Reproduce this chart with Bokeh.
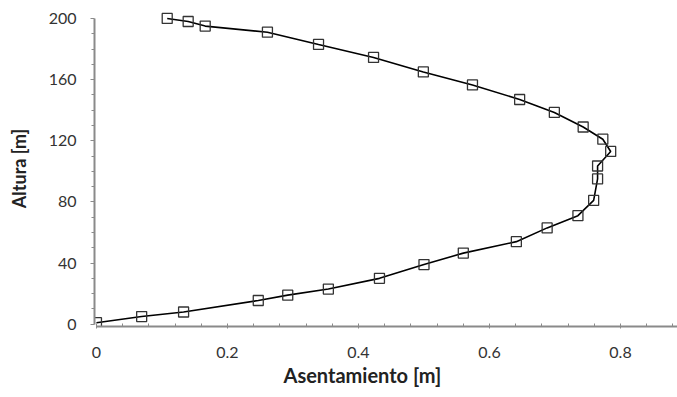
from bokeh.plotting import figure
from bokeh.models import Range1d, FixedTicker, Title
from bokeh.embed import file_html
from bokeh.resources import INLINE

# Data
asentamiento = [0.0, 0.069, 0.133, 0.247, 0.292, 0.354, 0.432, 0.500, 0.560, 0.641,
                0.688, 0.735, 0.759, 0.765, 0.765, 0.785, 0.773, 0.743, 0.699, 0.646,
                0.574, 0.499, 0.423, 0.339, 0.261, 0.166, 0.140, 0.108]
altura = [1, 5, 8, 15.5, 19, 23, 30, 39, 46.5, 54,
          63, 71, 81, 95, 103.5, 113, 121, 129, 138.5, 147,
          156.5, 165, 174.5, 183, 191, 195, 198, 200]

x_ticks = [0, 0.2, 0.4, 0.6, 0.8]
x_tick_labels = ["0", "0.2", "0.4", "0.6", "0.8"]
x_minor = [0.04 * i for i in range(1, 23) if i % 5 != 0]
y_ticks = [0, 40, 80, 120, 160, 200]
y_tick_labels = ["0", "40", "80", "120", "160", "200"]
y_minor = [v for v in range(10, 200, 10) if v % 40 != 0]

FONT = "Lato"

p = figure(width=677, height=397, output_backend="svg", toolbar_location=None,
           x_range=Range1d(-0.003, 0.887), y_range=Range1d(-1.5, 205.2),
           min_border_left=94, min_border_right=0, min_border_top=10, min_border_bottom=71)

p.line(asentamiento, altura, line_color="black", line_width=1.6)
p.scatter(asentamiento, altura, marker="square", size=10, fill_alpha=0,
          line_color="#333333", line_width=1.3)

p.xgrid.visible = False
p.ygrid.visible = False
p.outline_line_color = None

for ax in (p.xaxis[0], p.yaxis[0]):
    ax.axis_line_color = "#8a8a8a"
    ax.axis_line_width = 2
    ax.major_tick_line_color = "#8a8a8a"
    ax.minor_tick_line_color = "#8a8a8a"
    ax.major_tick_line_width = 1
    ax.minor_tick_line_width = 1
    ax.major_label_text_font = FONT
    ax.major_label_text_font_size = "16px"
    ax.major_label_text_color = "#333333"
    ax.axis_label_text_font = FONT
    ax.axis_label_text_font_style = "bold"
    ax.axis_label_text_font_size = "18px"
    ax.axis_label_text_color = "#222222"

xa = p.xaxis[0]
xa.ticker = FixedTicker(ticks=x_ticks, minor_ticks=x_minor)
xa.major_label_overrides = dict(zip(x_ticks, x_tick_labels))
xa.bounds = (0, 0.887)
xa.major_tick_in = 3
xa.major_tick_out = 2
xa.minor_tick_in = 3
xa.minor_tick_out = 0
xa.major_label_standoff = 18

xtitle = Title(text="Asentamiento [m]", align="left", offset=189, standoff=0,
               text_font=FONT, text_font_style="bold", text_font_size="20px",
               text_color="#222222")
p.add_layout(xtitle, "below")

ya = p.yaxis[0]
ya.ticker = FixedTicker(ticks=y_ticks, minor_ticks=y_minor)
ya.major_label_overrides = dict(zip(y_ticks, y_tick_labels))
ya.bounds = (0, 200)
ya.major_tick_in = 0
ya.major_tick_out = 4
ya.minor_tick_in = 0
ya.minor_tick_out = 3
ya.major_label_standoff = 14
ya.axis_label = "Altura [m]"
ya.axis_label_standoff = 16

open("out.html", "w").write(file_html(p, INLINE))
